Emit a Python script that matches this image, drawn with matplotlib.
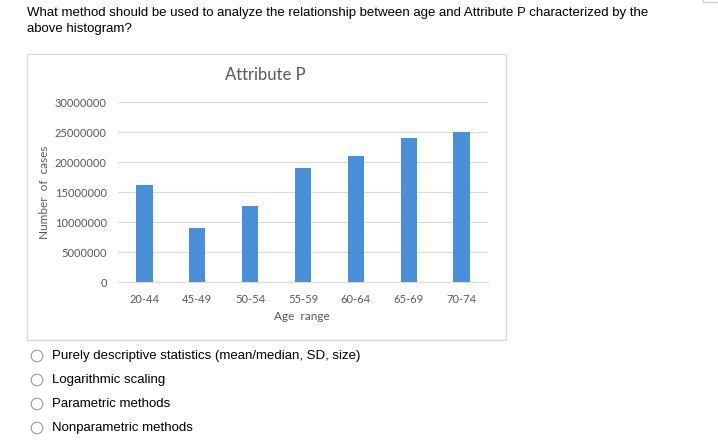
import matplotlib
matplotlib.use("Agg")
import matplotlib.pyplot as plt
from matplotlib.patches import Circle, Rectangle
from matplotlib.ticker import FuncFormatter

categories = ["20-44", "45-49", "50-54", "55-59", "60-64", "65-69", "70-74"]
cases = [16200000, 9000000, 12700000, 19000000, 21000000, 24000000, 25000000]
y_ticks = [0, 5000000, 10000000, 15000000, 20000000, 25000000, 30000000]

question_lines = [
    "What method should be used to analyze the relationship between age and Attribute P characterized by the",
    "above histogram?",
]
options = [
    "Purely descriptive statistics (mean/median, SD, size)",
    "Logarithmic scaling",
    "Parametric methods",
    "Nonparametric methods",
]

W, H = 718, 442
fig = plt.figure(figsize=(W / 100, H / 100), dpi=100)
fig.patch.set_facecolor("white")

# background axes in pixel coordinates
bg = fig.add_axes([0, 0, 1, 1])
bg.set_xlim(0, W)
bg.set_ylim(H, 0)
bg.axis("off")

qfont = "Liberation Sans"
for i, line in enumerate(question_lines):
    bg.text(27, 13 + i * 16, line, fontsize=9.55, family=qfont, color="black",
            va="center", ha="left")

# chart frame
bg.add_patch(Rectangle((26.5, 53.5), 479.5, 286.5, fill=False, edgecolor="#d9d9d9", lw=1.0))
# faint corner line top right
bg.plot([703, 718], [1.5, 1.5], color="#d0d0d0", lw=1.0)
bg.plot([703, 703], [0, 2], color="#d0d0d0", lw=1.0)

# options
for i, opt in enumerate(options):
    y = 356 + i * 24
    bg.add_patch(Circle((37, y), 5.8, fill=False, edgecolor="#999999", lw=0.8))
    bg.text(52, y, opt, fontsize=9.55, family=qfont, color="black", va="center", ha="left")

# chart axes
left, right = 118, 488
top, bottom = 102.3, 282.3
ax = fig.add_axes([left / W, (H - bottom) / H, (right - left) / W, (bottom - top) / H])
ax.set_facecolor("none")
x = range(len(categories))
ax.bar(x, cases, width=0.31, color="#4A90D9", zorder=3)
ax.set_xlim(-0.5, len(categories) - 0.5)
ax.set_ylim(0, 30000000)
ax.set_yticks(y_ticks)
ax.yaxis.set_major_formatter(FuncFormatter(lambda v, p: f"{int(v)}"))
ax.set_xticks(list(x))
ax.set_xticklabels(categories)
ax.grid(axis="y", color="#d9d9d9", lw=0.8, zorder=0)
for s in ["top", "right", "left"]:
    ax.spines[s].set_visible(False)
ax.spines["bottom"].set_color("#d9d9d9")
ax.spines["bottom"].set_linewidth(0.8)
ax.tick_params(length=0, labelsize=8.0, labelcolor="#595959")
ax.tick_params(axis="y", pad=8)
ax.tick_params(axis="x", pad=8.5)
for lab in ax.get_xticklabels() + ax.get_yticklabels():
    lab.set_family("Lato")

bg.text(265, 75, "Attribute P", fontsize=12, family="Lato", color="#595959",
        ha="center", va="center")
bg.text(302, 317, "Age  range", fontsize=8.5, family="Lato", color="#595959",
        ha="center", va="center")
bg.text(45, 192, "Number  of  cases", fontsize=8.5, family="Lato", color="#595959",
        ha="center", va="center", rotation=90)

fig.savefig("out.png", dpi=100)
